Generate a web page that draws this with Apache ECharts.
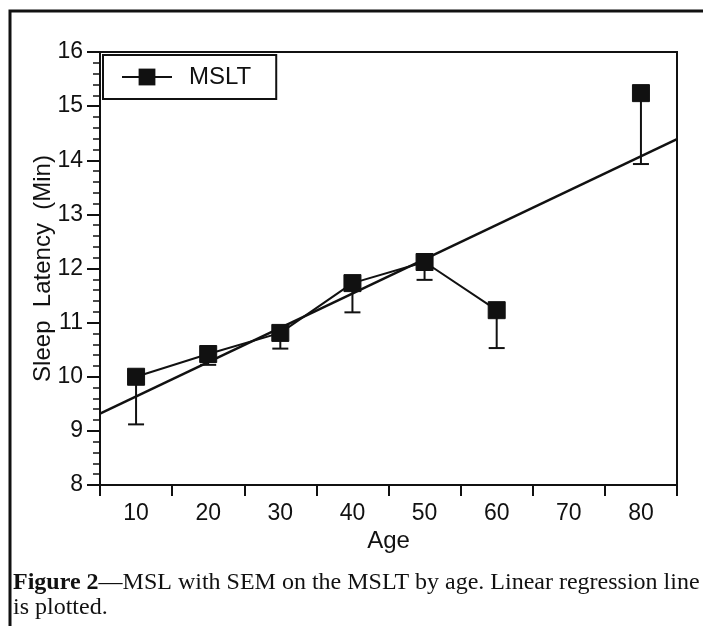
<!DOCTYPE html>
<html>
<head>
<meta charset="utf-8">
<script src="https://cdn.jsdelivr.net/npm/echarts@6/dist/echarts.min.js"></script>
<style>
  html, body { margin: 0; padding: 0; background: #fff; }
  #chart { width: 703px; height: 626px; }
</style>
</head>
<body>
<div id="chart"></div>
<script>
// ---- data ----
const ages = [10, 20, 30, 40, 50, 60, 70, 80];
const mslValues = [10.0, 10.42, 10.81, 11.73, 12.12, 11.23, null, 15.24];
const semLower = [9.12, 10.22, 10.52, 11.19, 11.79, 10.53, null, 13.93];
const regressionAges = [5, 85];
const regressionValues = [9.32, 14.39];
const xTickValues = [5, 15, 25, 35, 45, 55, 65, 75, 85];
const xLabelValues = [10, 20, 30, 40, 50, 60, 70, 80];
const seriesName = 'MSLT';
const xName = 'Age';
const yName = 'Sleep  Latency  (Min)';
const captionBold = 'Figure 2';
const captionLine1 = '\u2014MSL with SEM on the MSLT by age. Linear regression line';
const captionLine2 = 'is plotted.';

const sans = '"Liberation Sans", Arial, sans-serif';
const serif = '"Liberation Serif", "Times New Roman", serif';
const ink = '#111';

const lineData = ages.map((a, i) => [a, mslValues[i] == null ? '-' : mslValues[i]]);
const errData = [];
ages.forEach((a, i) => {
  if (mslValues[i] != null && semLower[i] != null) errData.push([a, mslValues[i], semLower[i]]);
});
const regData = regressionAges.map((a, i) => [a, regressionValues[i]]);

const chart = echarts.init(document.getElementById('chart'));
chart.setOption({
  animation: false,
  backgroundColor: '#fff',
  grid: { left: 100, right: 26, top: 52, bottom: 141, show: true, borderColor: ink, borderWidth: 2, backgroundColor: 'transparent' },
  legend: {
    data: [seriesName],
    left: 103, top: 55,
    itemWidth: 50, itemHeight: 21, itemGap: 10,
    borderColor: ink, borderWidth: 2,
    padding: [10, 25, 10, 18],
    textStyle: { fontFamily: sans, fontSize: 24, color: ink, padding: [0, 0, 0, 12] }
  },
  xAxis: {
    type: 'value', min: 5, max: 85, interval: 5,
    name: xName, nameLocation: 'middle', nameGap: 44, nameMoveOverlap: false,
    nameTextStyle: { fontFamily: sans, fontSize: 24, color: ink },
    axisLine: { show: true, lineStyle: { color: ink, width: 2 } },
    axisTick: { show: true, customValues: xTickValues, length: 11, lineStyle: { color: ink, width: 2 } },
    axisLabel: { customValues: xLabelValues, fontFamily: sans, fontSize: 23, color: ink, margin: 17 },
    splitLine: { show: false }
  },
  yAxis: {
    type: 'value', min: 8, max: 16, interval: 1,
    name: yName, nameLocation: 'middle', nameGap: 45, nameMoveOverlap: false,
    nameTextStyle: { fontFamily: sans, fontSize: 24, color: ink },
    axisLine: { show: true, lineStyle: { color: ink, width: 2 } },
    axisTick: { show: true, length: 13, lineStyle: { color: ink, width: 2 } },
    minorTick: { show: true, splitNumber: 5, length: 7, lineStyle: { color: ink, width: 1.5 } },
    axisLabel: { fontFamily: sans, fontSize: 23, color: ink, margin: 17 },
    splitLine: { show: false }
  },
  series: [
    {
      name: 'regression', type: 'line', data: regData, symbol: 'none', silent: true,
      lineStyle: { color: ink, width: 2.5 }, z: 2
    },
    {
      name: 'sem', type: 'custom', data: errData, silent: true, z: 3,
      renderItem: function (params, api) {
        const top = api.coord([api.value(0), api.value(1)]);
        const bot = api.coord([api.value(0), api.value(2)]);
        const half = 8;
        return {
          type: 'group',
          children: [
            { type: 'line', shape: { x1: top[0], y1: top[1], x2: bot[0], y2: bot[1] }, style: { stroke: ink, lineWidth: 2 } },
            { type: 'line', shape: { x1: bot[0] - half, y1: bot[1], x2: bot[0] + half, y2: bot[1] }, style: { stroke: ink, lineWidth: 2 } }
          ]
        };
      }
    },
    {
      name: seriesName, type: 'line', data: lineData, connectNulls: false,
      symbol: 'rect', symbolSize: 17,
      itemStyle: { color: ink, borderColor: ink },
      lineStyle: { color: ink, width: 2 }, z: 4
    }
  ],
  graphic: [
    {
      type: 'rect', z: -1, silent: true,
      shape: { x: 10, y: 11, width: 800, height: 700 },
      style: { fill: 'none', stroke: ink, lineWidth: 3 }
    },
    {
      type: 'text', left: 13, top: 570, silent: true,
      style: {
        text: '{b|' + captionBold + '}' + captionLine1 + '\n' + captionLine2,
        font: '24px ' + serif, fill: ink, lineHeight: 25,
        rich: { b: { fontFamily: serif, fontSize: 24, fontWeight: 'bold', fill: ink, lineHeight: 25 } }
      }
    }
  ]
});
</script>
</body>
</html>
